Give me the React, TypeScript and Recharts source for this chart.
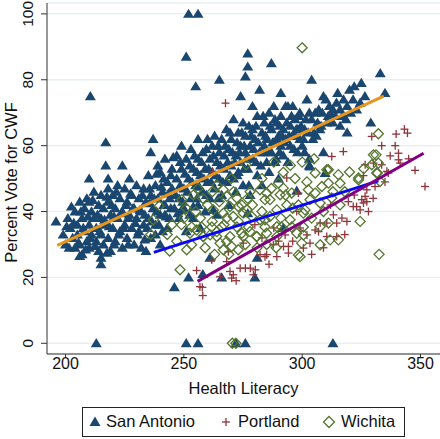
import React from "react"
import {
  ScatterChart,
  Scatter,
  XAxis,
  YAxis,
  CartesianGrid,
} from "recharts"

// colours (Stata s2color look)
const NAVY = "#1a476f"
const MAROON = "#90353b"
const GREEN = "#55752f"

// x ticks / y ticks
const xTicks = [200, 250, 300, 350]
const yTicks = [0, 20, 40, 60, 80, 100]

// San Antonio precincts: [health literacy, % vote]
const sanAntonio: [number, number][] = [
  [196, 37], [199, 33], [200, 30], [201, 38], [202, 35], [203, 32], [204, 40], [204, 29], [205, 36], [205, 33],
  [206, 43], [206, 30], [207, 27], [207, 38], [208, 34], [208, 41], [209, 31], [209, 44], [210, 36], [210, 29],
  [210, 50], [211, 40], [211, 33], [212, 38], [212, 46], [213, 31], [213, 35], [214, 42], [214, 28], [215, 26],
  [215, 38], [215, 45], [215, 33], [210.5, 75], [217, 61], [217, 54], [218, 50], [218, 47], [210, 43], [206, 26.5],
  [216, 30], [216, 41], [217, 36], [218, 43], [218, 32], [219, 39], [219, 28], [220, 35], [220, 45], [221, 41],
  [221, 31], [222, 38], [222, 48], [223, 34], [223, 44], [224, 29], [224, 40], [224, 54], [225, 36], [225, 47],
  [226, 43], [226, 32], [227, 39], [227, 50], [228, 35], [228, 45], [229, 30], [229, 41], [230, 38], [230, 48],
  [215, 24], [231, 34], [231, 44], [232, 40], [232, 29], [233, 47], [233, 36], [234, 28], [234, 43], [235, 38],
  [235, 51], [236, 32], [236, 45], [236, 58], [237, 41], [237, 62], [238, 36], [238, 48], [239, 44], [239, 54],
  [240, 39], [240, 52], [241, 46], [241, 34], [242, 42], [242, 56], [243, 35], [243, 49], [244, 44], [244, 38],
  [245, 53], [245, 47], [246, 17], [246, 41], [247, 50], [247, 57], [248, 44], [248, 38], [249, 60], [249, 53],
  [250, 47], [250, 41], [251, 87], [251, 56], [251, 34], [252, 100], [252, 50], [252, 20], [253, 44], [253, 59],
  [254, 53], [254, 38], [255, 78], [255, 48], [256, 100], [256, 62], [256, 56], [256, 42], [257, 51], [257, 35],
  [258, 46], [258, 21], [258, 58], [259, 53], [259, 40], [260, 49], [260, 62], [261, 26], [261, 44], [261, 56],
  [262, 52], [262, 60], [263, 47], [263, 63], [264, 55], [264, 39], [265, 80], [265, 50], [265, 58], [266, 20],
  [266, 45], [266, 62], [267, 53], [267, 57], [268, 49], [268, 65], [269, 59], [269, 42], [270, 54], [270, 62],
  [271, 68], [271, 50], [272, 57], [272, 46], [273, 64], [273, 52], [274, 75], [274, 60], [274, 55], [275, 48],
  [275, 67], [276, 81], [276, 58], [276, 63], [277, 88], [277, 84], [277, 53], [278, 60], [278, 45], [279, 72],
  [279, 56], [279, 65], [280, 20], [280, 62], [281, 26], [281, 69], [281, 51], [282, 58], [282, 77], [283, 64],
  [283, 48], [284, 60], [284, 67], [285, 55], [285, 62], [286, 70], [286, 52], [287, 85], [287, 58], [287, 65],
  [288, 72], [288, 61], [289, 56], [289, 67], [290, 63], [290, 50], [291, 76], [291, 60], [291, 69], [292, 65],
  [292, 57], [293, 62], [293, 72], [294, 72], [294, 55], [295, 66], [295, 60], [296, 72], [296, 63], [297, 63],
  [297, 68], [298, 58], [298, 65], [299, 62], [299, 70], [300, 65], [300, 60], [301, 65], [301, 58], [302, 74],
  [303, 70], [303, 56], [303, 54], [304, 80], [304, 68], [305, 64], [306, 63], [307, 71], [308, 66], [309, 75],
  [309, 58], [310, 74], [311, 69], [313, 71], [313, 67], [314, 69], [315, 76], [316, 71], [316, 66], [317, 69],
  [319, 64], [319, 72], [320, 77], [322, 78], [323, 71], [325, 79], [329, 67], [333, 82], [335, 76],
  [277, 39.5], [292, 35], [262.5, 40.5], [242, 39], [249, 40.5], [254, 41.5], [238, 33], [240, 30],
  [297.7, 46.3], [303.3, 53.7], [309.7, 51.7],
  [200.5, 35.5], [201.5, 29], [202.5, 41.5], [203.5, 36.5], [205.5, 30.5], [206.5, 40], [207.5, 35], [208.5, 28.5],
  [209.5, 38.5], [210.5, 32], [211.5, 43.5], [212.5, 29.5], [213.5, 39], [214.5, 34], [216.5, 37.5], [217.5, 27.5],
  [217.5, 44.5], [218.5, 35.5], [219.5, 42], [220.5, 30], [220.5, 38.5], [221.5, 46], [222.5, 33], [223.5, 39.5],
  [224.5, 35], [225.5, 42], [226.5, 30], [226.5, 38], [227.5, 45.5], [228.5, 41], [229.5, 36.5], [230.5, 33],
  [231.5, 40.5], [232.5, 45], [233.5, 31.5], [233.5, 39], [234.5, 35], [235.5, 42.5], [235.5, 47], [236.5, 37],
  [237.5, 44], [238.5, 40], [238.5, 51.5], [239.5, 36], [240.5, 47.5], [241.5, 42], [241.5, 50], [242.5, 38.5],
  [243.5, 45.5], [244.5, 51], [244.5, 41], [245.5, 56.5], [246.5, 45], [247.5, 39.5], [248.5, 48], [248.5, 55],
  [249.5, 43], [250.5, 51.5], [251.5, 46], [252.5, 54], [252.5, 39], [253.5, 49], [254.5, 57], [255.5, 44],
  [255.5, 52], [256.5, 47.5], [257.5, 55], [258.5, 50], [259.5, 59], [259.5, 45], [260.5, 53], [261.5, 49],
  [262.5, 57], [263.5, 51], [264.5, 60], [264.5, 44], [265.5, 54], [266.5, 49], [267.5, 60], [268.5, 55],
  [269.5, 51], [269.5, 64], [270.5, 58], [271.5, 55], [272.5, 61], [272.5, 51], [273.5, 58], [274.5, 64],
  [275.5, 53], [275.5, 60], [276.5, 56], [277.5, 66], [277.5, 48], [278.5, 63], [279.5, 59], [280.5, 55],
  [280.5, 66], [281.5, 61], [282.5, 54], [283.5, 69], [283.5, 58], [284.5, 63], [285.5, 58], [286.5, 66],
  [287.5, 61], [288.5, 55], [288.5, 68], [289.5, 62], [290.5, 58], [290.5, 66], [291.5, 63], [292.5, 61],
  [293.5, 67], [294.5, 63], [295.5, 69], [296.5, 59], [297.5, 65], [298.5, 69], [299.5, 66], [300.5, 62],
  [301.5, 68], [302.5, 64], [304.5, 62], [305.5, 70], [306.5, 67], [307.5, 65], [308.5, 70], [310.5, 67],
  [311.5, 72], [312.5, 69], [314.5, 73], [317.5, 74], [318.5, 68], [320.5, 70], [321.5, 74], [324.5, 73],
  [326.5, 75],
  [213, 0], [251, 0], [256, 0], [272, 0], [276, 0], [313, 0],
]

// Portland precincts
const portland: [number, number][] = [
  [256.8, 17.2], [258, 14.5], [257.8, 17], [255.4, 22.1], [261.8, 25.3], [265.3, 20.2], [269.5, 21.8], [270.9, 20.8],
  [270.2, 19.8], [272.1, 19], [273.8, 22.8], [276, 22.8], [278.1, 22.8], [280.2, 22.3], [268.8, 27.8], [268.1, 24.8],
  [284.3, 26.3], [289.3, 26.3], [287.8, 29.9], [292.1, 29.4], [294.2, 29.4], [294.2, 27.4], [292.8, 32.9], [299.1, 35],
  [300.5, 28.9], [302, 32.9], [275.1, 30.4], [279.4, 20.8], [282.2, 26.9], [285, 26.9],
  [326.6, 54.2], [330.1, 54.7], [333.6, 54.2], [341.4, 54.7], [347.7, 52.5], [351.9, 47.6], [325.9, 50.9], [336.4, 51.7],
  [327.3, 46.6], [330.8, 47.6], [319.5, 43], [323, 41.5], [325.2, 43.6], [325.9, 42.6], [327.3, 43], [328, 40],
  [324.5, 40.5], [313.2, 39], [316.8, 38], [318.9, 37], [314.6, 36.5], [305.5, 34.4], [306.9, 33.9], [310.4, 32.4],
  [310.4, 36.5], [303.3, 30.4], [307.6, 36.5], [314.6, 32.4],
  [329.4, 62.8], [339.7, 63.5], [343.2, 65], [344.5, 63.8], [333.6, 60], [339.3, 60], [312.5, 56.7], [317.4, 58.2],
  [337.2, 56.9], [340.7, 57.7], [340.7, 55.7], [335.8, 52.2], [267.6, 72.9], [262.2, 52.1], [293.5, 50.2], [298.4, 45.6],
  [321.6, 41.5], [326.6, 44.6], [297.7, 40], [288, 35], [283, 32], [280, 36],
  [296, 31], [304, 27], [309, 29], [312, 42], [318, 33], [322, 45], [330, 44], [335, 49], [345, 56], [286, 24], [290, 31],
]

// Wichita precincts
const wichita: [number, number][] = [
  [292, 51.9], [290, 48.6], [292, 47.1], [290.7, 45.1], [295.6, 45.6], [282.2, 46.6], [285, 45.6], [284.3, 43.6],
  [286.4, 43.6], [276.3, 54.2], [266.7, 46.6], [268.1, 44.6], [272.4, 44.1], [274.5, 42], [249.1, 43.6], [262.5, 40.5],
  [266.7, 39.5], [270.9, 38.5], [275.1, 39.5], [278.7, 38.5], [282.2, 37.5], [286.4, 38.5], [253.3, 35.3], [257.5, 35.3],
  [261.8, 35.3], [266, 35.3], [272.4, 35.3], [277.3, 35.3], [284.3, 35.3], [291.3, 35.3], [295.6, 35.3], [300.5, 35.3],
  [258.2, 32.4], [263.9, 32.4], [269.5, 32.4], [275.1, 32.4], [280.8, 32.4], [289.3, 32.4],
  [248.4, 22.3], [251.2, 28.4], [253.3, 29.9], [252.6, 33.4], [255.4, 34.4], [258.2, 32.4], [261.1, 32.9], [263.9, 33.9],
  [265.3, 30.4], [268.1, 30.9], [266.7, 28.4], [270.2, 29.4], [273, 28.4], [274.5, 33.4], [278, 33.9], [280.8, 32.4],
  [285, 33.4], [284.3, 37.5], [289.3, 35.4], [294.9, 37.5], [297.7, 33.4], [299.8, 30.4], [298.4, 26.8], [300.5, 39.5],
  [298.4, 42], [293.5, 42], [289.3, 40.5], [276.6, 40.5], [273, 41.5], [269.5, 41.5], [268.1, 38],
  [311.1, 52.7], [315.3, 51.2], [316, 48.6], [311.1, 48.6], [308.3, 47.6], [305.5, 45.6], [302.6, 46.6], [303.3, 43.6],
  [301.2, 40.5], [307.6, 42.6], [312.5, 44.1], [323.8, 49.6], [331.5, 51.7], [332.9, 49.1], [324.5, 37], [315.3, 31.4],
  [311.8, 31.4], [307.6, 29.9], [299.1, 26.3], [300.5, 32.9], [307.6, 35.4], [311.1, 36.5], [332.5, 27],
  [332.2, 63.6], [331.2, 57.2], [329.4, 54.2], [332.2, 54.7], [331.8, 51.7], [305.5, 51.7], [310.4, 52.7], [323.8, 50.2],
  [330.1, 57.2], [300, 89.7], [239.6, 41.7], [237.1, 37.5],
  [245, 36], [250, 38], [255, 40], [258, 44], [262, 46], [256, 47], [264, 48], [270, 50], [278, 46], [283, 50],
  [288, 55], [295, 54], [300, 55], [305, 56], [244, 28], [243, 33],
  [247, 31], [249, 36], [251, 41], [254, 45], [257, 38], [259, 29], [260, 42], [262, 37], [263, 27], [265, 43],
  [267, 36], [269, 27], [271, 46], [273, 37], [276, 30], [277, 44], [279, 42], [281, 29], [283, 40], [285, 30],
  [287, 47], [289, 29], [291, 38], [293, 45], [296, 41], [297, 50], [302, 49], [304, 38], [309, 40], [313, 46],
  [318, 46], [320, 52], [326, 53], [316, 42], [236, 33],
  [270.5, 0], [272, 0],
]

// fitted lines (end points)
const fitSanAntonio: [number, number][] = [[196.5, 29.7], [334.5, 75]]
const fitWichita: [number, number][] = [[237.3, 27.6], [332.2, 49.3]]
const fitPortland: [number, number][] = [[255.8, 18.8], [351.3, 57.7]]

const toPts = (arr: [number, number][]) => arr.map(([x, y]) => ({ x, y }))

const FONT = "'Liberation Sans', Arial, sans-serif"

const Triangle = (p: any) => {
  const { cx, cy } = p
  return (
    <polygon
      points={`${cx},${cy - 5.2} ${cx - 5.5},${cy + 4} ${cx + 5.5},${cy + 4}`}
      fill={NAVY}
    />
  )
}

const Cross = (p: any) => {
  const { cx, cy } = p
  return (
    <g stroke={MAROON} strokeWidth={1.3}>
      <line x1={cx - 4} y1={cy} x2={cx + 4} y2={cy} />
      <line x1={cx} y1={cy - 4} x2={cx} y2={cy + 4} />
    </g>
  )
}

const Diamond = (p: any) => {
  const { cx, cy } = p
  return (
    <polygon
      points={`${cx},${cy - 5} ${cx + 5},${cy} ${cx},${cy + 5} ${cx - 5},${cy}`}
      fill="none"
      stroke={GREEN}
      strokeWidth={1.3}
    />
  )
}

const NoDot = () => <g />

// rotated y tick labels, like Stata
const YTick = (p: any) => {
  const { x, y, payload } = p
  const tx = x - 6
  return (
    <text
      x={tx}
      y={y}
      transform={`rotate(-90, ${tx}, ${y})`}
      textAnchor="middle"
      fontSize={15.5}
      fontFamily={FONT}
      fill="#111"
    >
      {payload.value}
    </text>
  )
}

export default function App() {
  return (
    <div style={{ position: "absolute", left: 0, top: 0, width: 440, height: 439, background: "#fff" }}>
      <ScatterChart
        width={440}
        height={439}
        margin={{ top: 3, right: 0, bottom: 40, left: 0 }}
      >
        <CartesianGrid vertical={false} stroke="#e8f0f2" strokeWidth={1.5} />
        <XAxis
          type="number"
          dataKey="x"
          domain={[192.18, 358.24]}
          ticks={xTicks}
          height={45}
          tickSize={4}
          tickMargin={0}
          stroke="#333"
          tick={{ fontSize: 16, fill: "#111", fontFamily: FONT }}
          allowDataOverflow
          label={({ viewBox }: any) => (
            <text
              x={viewBox.x + viewBox.width / 2}
              y={viewBox.y + 40}
              textAnchor="middle"
              fontSize={16.5}
              fontFamily={FONT}
              fill="#111"
            >
              Health Literacy
            </text>
          )}
        />
        <YAxis
          type="number"
          dataKey="y"
          domain={[-3.25, 103.3]}
          ticks={yTicks}
          width={47}
          tickSize={6}
          tickMargin={2}
          stroke="#333"
          tick={<YTick />}
          allowDataOverflow
          label={({ viewBox }: any) => {
            const cx = viewBox.x + 10.5
            const cy = viewBox.y + viewBox.height / 2 + 4
            return (
              <text
                x={cx}
                y={cy}
                transform={`rotate(-90, ${cx}, ${cy})`}
                textAnchor="middle"
                dominantBaseline="central"
                fontSize={16.5}
                fontFamily={FONT}
                fill="#111"
              >
                Percent Vote for CWF
              </text>
            )
          }}
        />
        <Scatter name="San Antonio" data={toPts(sanAntonio)} shape={<Triangle />} isAnimationActive={false} />
        <Scatter name="Portland" data={toPts(portland)} shape={<Cross />} isAnimationActive={false} />
        <Scatter name="Wichita" data={toPts(wichita)} shape={<Diamond />} isAnimationActive={false} />
        <Scatter
          data={toPts(fitSanAntonio)}
          line={{ stroke: "#e8951e", strokeWidth: 3 }}
          shape={<NoDot />}
          isAnimationActive={false}
        />
        <Scatter
          data={toPts(fitWichita)}
          line={{ stroke: "#0a0af0", strokeWidth: 3 }}
          shape={<NoDot />}
          isAnimationActive={false}
        />
        <Scatter
          data={toPts(fitPortland)}
          line={{ stroke: "#800080", strokeWidth: 3 }}
          shape={<NoDot />}
          isAnimationActive={false}
        />
      </ScatterChart>
      <div
        style={{
          position: "absolute",
          left: 82,
          top: 407,
          width: 321,
          height: 28,
          border: "1px solid #222",
          fontFamily: FONT,
          fontSize: 16.5,
          color: "#111",
          boxSizing: "content-box",
        }}
      >
        <svg width={14} height={14} style={{ position: "absolute", left: 5, top: 7 }}>
          <polygon points="7,1.5 1.5,11 12.5,11" fill={NAVY} />
        </svg>
        <span style={{ position: "absolute", left: 23, top: 4 }}>San Antonio</span>
        <svg width={14} height={14} style={{ position: "absolute", left: 136, top: 7 }}>
          <g stroke={MAROON} strokeWidth={1.3}>
            <line x1={3} y1={7} x2={11} y2={7} />
            <line x1={7} y1={3} x2={7} y2={11} />
          </g>
        </svg>
        <span style={{ position: "absolute", left: 155, top: 4 }}>Portland</span>
        <svg width={14} height={14} style={{ position: "absolute", left: 239, top: 7 }}>
          <polygon points="7,1.5 12.5,7 7,12.5 1.5,7" fill="none" stroke={GREEN} strokeWidth={1.3} />
        </svg>
        <span style={{ position: "absolute", left: 258, top: 4 }}>Wichita</span>
      </div>
    </div>
  )
}
